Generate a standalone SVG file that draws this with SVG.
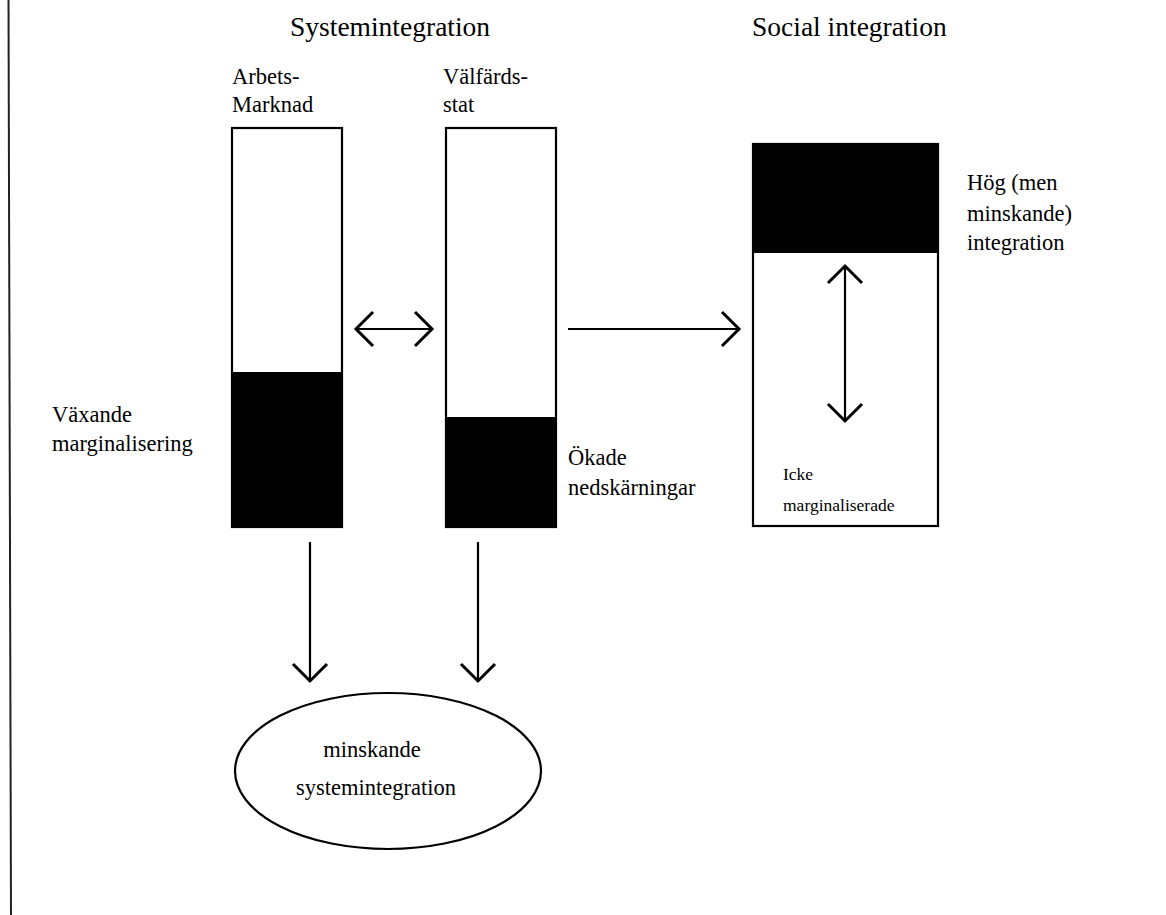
<svg xmlns="http://www.w3.org/2000/svg" width="1166" height="915" viewBox="0 0 1166 915">
<style>
text{font-family:"Liberation Serif","Times New Roman",serif;fill:#000}
.title{font-size:27.5px}
.lbl{font-size:22.5px}
.sm{font-size:17.5px}
.box{fill:#fff;stroke:#000;stroke-width:2.2}
.fill{fill:#000}
.conn{stroke:#000;stroke-width:2.2;fill:none}
</style>
<defs>
<marker id="ah" viewBox="-20 -20 24 40" markerWidth="24" markerHeight="40" refX="0" refY="0" markerUnits="userSpaceOnUse" orient="auto-start-reverse" overflow="visible">
<path d="M-17,-17 L0,0 L-17,17" fill="none" stroke="#000" stroke-width="3"/>
</marker>
</defs>
<rect width="1166" height="915" fill="#fff"/>
<line x1="8.5" y1="0" x2="11" y2="915" stroke="#222" stroke-width="2"/>
<g id="titles">
<text class="title" x="290" y="36">Systemintegration</text>
<text class="title" x="752" y="36">Social integration</text>
</g>
<g id="arbetsmarknad">
<text class="lbl" x="232" y="84">Arbets-</text>
<text class="lbl" x="232" y="112">Marknad</text>
<rect class="box" x="232" y="128" width="110" height="399"/>
<rect class="fill" x="232" y="372" width="110" height="155"/>
</g>
<g id="valfardsstat">
<text class="lbl" x="443" y="84">Välfärds-</text>
<text class="lbl" x="443" y="112">stat</text>
<rect class="box" x="446" y="128" width="110" height="399"/>
<rect class="fill" x="446" y="417" width="110" height="110"/>
</g>
<g id="social">
<rect class="box" x="753" y="144" width="185" height="382"/>
<rect class="fill" x="753" y="144" width="185" height="109"/>
<text class="sm" x="783" y="480">Icke</text>
<text class="sm" x="783" y="511">marginaliserade</text>
</g>
<g id="hog-label">
<text class="lbl" x="967" y="190">Hög (men</text>
<text class="lbl" x="967" y="221">minskande)</text>
<text class="lbl" x="967" y="250">integration</text>
</g>
<g id="vaxande-label">
<text class="lbl" x="52" y="422">Växande</text>
<text class="lbl" x="52" y="451">marginalisering</text>
</g>
<g id="okade-label">
<text class="lbl" x="568" y="465">Ökade</text>
<text class="lbl" x="568" y="495">nedskärningar</text>
</g>
<g id="minskande">
<ellipse cx="388" cy="771" rx="153" ry="78" fill="#fff" stroke="#000" stroke-width="2.2"/>
<text class="lbl" x="372" y="757" text-anchor="middle">minskande</text>
<text class="lbl" x="376" y="795" text-anchor="middle">systemintegration</text>
</g>
<g id="connectors">
<line class="conn" x1="356" y1="329" x2="432" y2="329" marker-start="url(#ah)" marker-end="url(#ah)"/>
<line class="conn" x1="568" y1="329" x2="739" y2="329" marker-end="url(#ah)"/>
<line class="conn" x1="845" y1="266" x2="845" y2="421" marker-start="url(#ah)" marker-end="url(#ah)"/>
<line class="conn" x1="310" y1="542" x2="310" y2="681" marker-end="url(#ah)"/>
<line class="conn" x1="478" y1="542" x2="478" y2="681" marker-end="url(#ah)"/>
</g>
</svg>
